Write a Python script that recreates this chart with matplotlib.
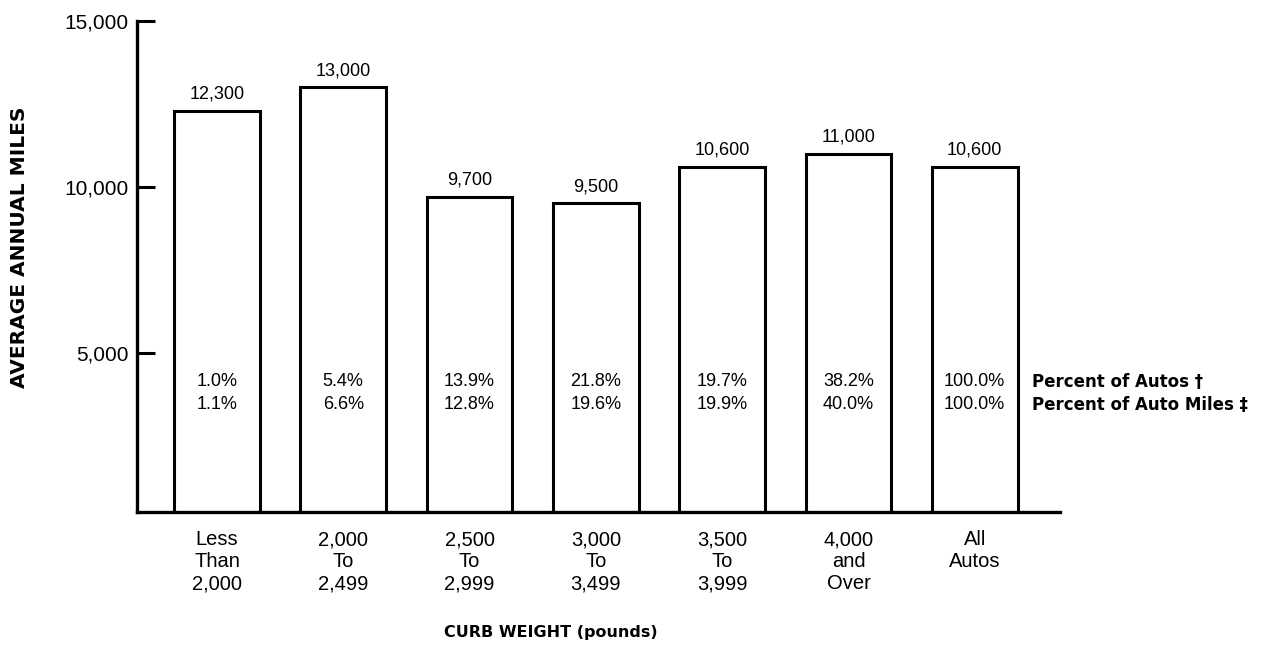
import matplotlib

matplotlib.use("Agg")
import matplotlib.pyplot as plt
from matplotlib.transforms import blended_transform_factory

plt.rcParams["font.family"] = ["Liberation Sans", "DejaVu Sans"]
BOLD = ["DejaVu Sans"]

# ---- data ----
categories = ["Less\nThan\n2,000", "2,000\nTo\n2,499", "2,500\nTo\n2,999",
              "3,000\nTo\n3,499", "3,500\nTo\n3,999", "4,000\nand\nOver", "All\nAutos"]
avg_miles = [12300, 13000, 9700, 9500, 10600, 11000, 10600]
pct_autos = [1.0, 5.4, 13.9, 21.8, 19.7, 38.2, 100.0]
pct_miles = [1.1, 6.6, 12.8, 19.6, 19.9, 40.0, 100.0]
yticks = [5000, 10000, 15000]

W, H = 1263, 656
fig = plt.figure(figsize=(W / 100, H / 100), dpi=100)
# axes box in pixels: left spine, baseline, right end, 15,000 line
L, B, R, T = 137, 512, 1060, 21
ax = fig.add_axes([L / W, 1 - B / H, (R - L) / W, (B - T) / H])

x = list(range(len(categories)))
ax.bar(x, avg_miles, width=0.68, facecolor="white", edgecolor="black", linewidth=2.2)
ax.set_xlim(-0.633, 6.675)
ax.set_ylim(200, 15000)

for s in ("top", "right"):
    ax.spines[s].set_visible(False)
for s in ("left", "bottom"):
    ax.spines[s].set_linewidth(2.4)

ax.set_yticks(yticks)
ax.set_yticklabels([f"{v:,}" for v in yticks], fontsize=15)
ax.tick_params(axis="y", direction="in", length=13, width=2.2, pad=6)
ax.set_xticks(x)
ax.set_xticklabels(categories, fontsize=14.5, linespacing=1.2)
ax.tick_params(axis="x", length=0, pad=13)

for xi, v in zip(x, avg_miles):
    ax.text(xi, v + 250, f"{v:,}", ha="center", va="bottom", fontsize=13)

tr = blended_transform_factory(ax.transData, ax.transAxes)
for xi, a, m in zip(x, pct_autos, pct_miles):
    ax.text(xi, 0.265, f"{a:.1f}%", transform=tr, ha="center", va="center", fontsize=13)
    ax.text(xi, 0.218, f"{m:.1f}%", transform=tr, ha="center", va="center", fontsize=13)
ax.text(6.45, 0.265, "Percent of Autos \u2020", transform=tr, ha="left", va="center",
        fontsize=12, fontweight="bold", family=BOLD)
ax.text(6.45, 0.218, "Percent of Auto Miles \u2021", transform=tr, ha="left", va="center",
        fontsize=12, fontweight="bold", family=BOLD)

fig.text(20 / W, 1 - 247 / H, "AVERAGE ANNUAL MILES", rotation=90, ha="center", va="center",
         fontsize=14.5, fontweight="bold", family=BOLD)
fig.text(551 / W, 1 - 632 / H, "CURB WEIGHT (pounds)", ha="center", va="center",
         fontsize=11.5, fontweight="bold", family=BOLD)

fig.savefig("out.png", dpi=100, facecolor="white")
